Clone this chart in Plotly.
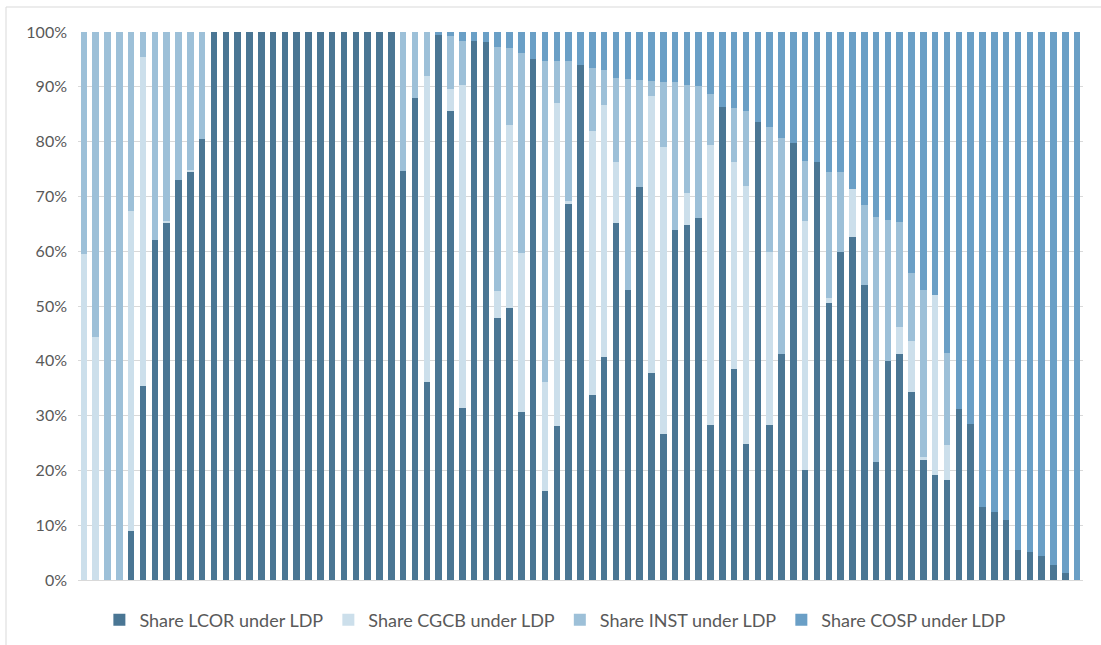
import plotly.graph_objects as go

categories = list(range(1, 86))

lcor = [0, 0, 0, 0, 8.9, 35.4, 62.1, 65.2, 73.0, 74.5, 80.5,
        100, 100, 100, 100, 100, 100, 100, 100, 100, 100, 100, 100, 100, 100, 100, 100,
        74.6, 88.0, 36.2, 99.5, 85.5, 31.4, 98.4, 98.2, 47.8, 49.7, 30.7, 95.1, 16.3, 28.1,
        68.6, 93.9, 33.7, 40.7, 65.2, 53.0, 71.7, 37.7, 26.7, 63.8, 64.8, 66.1, 28.2, 86.4,
        38.5, 24.8, 83.5, 28.3, 41.2, 79.8, 20.0, 76.2, 50.5, 59.9, 62.6, 53.9, 21.5, 39.9,
        41.2, 34.3, 21.9, 19.2, 18.2, 31.2, 28.5, 13.4, 12.5, 10.9, 5.5, 5.2, 4.3, 2.8, 1.2, 0]

cgcb = [59.5, 44.4, 0, 0, 58.4, 60.1, 0, 0.3, 0, 0.3, 0,
        0, 0, 0, 0, 0, 0, 0, 0, 0, 0, 0, 0, 0, 0, 0, 0,
        0, 0, 55.8, 0, 4.1, 58.9, 0, 0, 5.0, 33.3, 28.9, 0, 19.8, 58.9,
        0.6, 0, 48.3, 46.0, 11.0, 0, 0, 50.7, 52.4, 0, 5.8, 0, 51.2, 0,
        37.7, 47.1, 0, 31.6, 0, 0, 45.6, 0, 1.0, 0, 8.8, 0, 0, 0,
        5.0, 9.4, 0.6, 32.8, 6.4, 0, 0, 0, 0, 0, 0, 0, 0, 0, 0, 0]

inst = [40.5, 55.6, 100, 100, 32.7, 4.5, 37.9, 34.5, 27.0, 25.2, 19.5,
        0, 0, 0, 0, 0, 0, 0, 0, 0, 0, 0, 0, 0, 0, 0, 0,
        25.4, 12.0, 8.0, 0, 9.6, 8.1, 0, 0, 44.5, 14.0, 36.6, 0, 58.7, 7.7,
        25.6, 0, 11.5, 6.3, 15.4, 38.4, 19.5, 2.7, 11.8, 27.0, 19.7, 24.0, 9.3, 0,
        10.0, 13.6, 0, 22.8, 39.4, 0, 10.8, 0, 22.9, 14.5, 0, 14.6, 44.7, 25.8,
        19.1, 12.3, 30.5, 0, 16.8, 0, 0, 0, 0, 0, 0, 0, 0, 0, 0, 0]

cosp = [0, 0, 0, 0, 0, 0, 0, 0, 0, 0, 0,
        0, 0, 0, 0, 0, 0, 0, 0, 0, 0, 0, 0, 0, 0, 0, 0,
        0, 0, 0, 0.5, 0.8, 1.6, 1.6, 1.8, 2.7, 3.0, 3.8, 4.9, 5.2, 5.3,
        5.2, 6.1, 6.5, 7.0, 8.4, 8.6, 8.8, 8.9, 9.1, 9.2, 9.7, 9.9, 11.3, 13.6,
        13.8, 14.5, 16.5, 17.3, 19.4, 20.2, 23.6, 23.8, 25.6, 25.6, 28.6, 31.5, 33.8, 34.3,
        34.7, 44.0, 47.0, 48.0, 58.6, 68.8, 71.5, 86.6, 87.5, 89.1, 94.5, 94.8, 95.7, 97.2, 98.8, 100]

series_names = ["Share LCOR under LDP", "Share CGCB under LDP",
                "Share INST under LDP", "Share COSP under LDP"]
series_values = [lcor, cgcb, inst, cosp]
colors = ["#4A7694", "#CCDFEB", "#9DC0D8", "#6A9FC6"]

fig = go.Figure()
for name, vals, col in zip(series_names, series_values, colors):
    fig.add_trace(go.Bar(x=categories, y=vals, name=name,
                         marker=dict(color=col, line=dict(width=0))))

font_family = "Lato, 'Open Sans', sans-serif"
fig.update_layout(
    barmode="stack",
    bargap=0.45,
    width=1101, height=645,
    margin=dict(l=78, r=18, t=32, b=65, autoexpand=False),
    paper_bgcolor="white", plot_bgcolor="white",
    font=dict(family=font_family, color="#595959", size=16),
    showlegend=True,
    legend=dict(orientation="h", x=0.475, xanchor="center", y=-0.073, yanchor="middle",
                font=dict(size=18, color="#595959"), traceorder="normal",
                itemwidth=30),
    xaxis=dict(type="category", showticklabels=False, showgrid=False, ticks="",
               showline=True, linecolor="#D9D9D9", linewidth=1, zeroline=False),
    yaxis=dict(range=[0, 100], dtick=10, ticksuffix="%", showgrid=True,
               gridcolor="#D9D9D9", gridwidth=1, zeroline=False, showline=False,
               ticklabelstandoff=10, tickfont=dict(size=16, color="#595959")),
    shapes=[dict(type="rect", xref="paper", yref="paper",
                 x0=(6 - 78) / 1005, x1=(1110 - 78) / 1005,
                 y0=-(660 - 580) / 548, y1=(580 - 7) / 548,
                 line=dict(color="#D9D9D9", width=1), layer="below")],
)

fig.write_html("out.html",
               config={"displayModeBar": False},
               post_script="document.body.style.margin='0';document.body.style.overflow='hidden';")
